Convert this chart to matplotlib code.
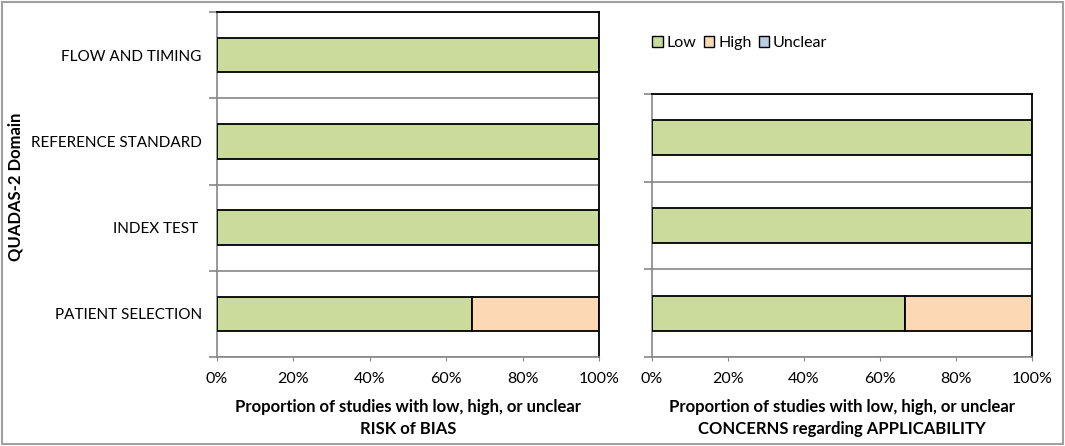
import matplotlib.pyplot as plt
from matplotlib.patches import Rectangle, Patch
from matplotlib.ticker import PercentFormatter

plt.rcParams['font.family'] = ['Lato', 'DejaVu Sans']

# risk of bias (bottom -> top)
bias_domains = ['PATIENT SELECTION', 'INDEX TEST ', 'REFERENCE STANDARD', 'FLOW AND TIMING']
bias_low = [0.667, 1.0, 1.0, 1.0]
bias_high = [0.333, 0.0, 0.0, 0.0]
bias_unclear = [0.0, 0.0, 0.0, 0.0]

# applicability concerns (bottom -> top)
appl_domains = ['PATIENT SELECTION', 'INDEX TEST', 'REFERENCE STANDARD']
appl_low = [0.667, 1.0, 1.0]
appl_high = [0.333, 0.0, 0.0]
appl_unclear = [0.0, 0.0, 0.0]

x_ticks = [0, 0.2, 0.4, 0.6, 0.8, 1.0]

c_low = '#CADB9C'
c_high = '#FDD8B5'
c_unclear = '#B9CDE5'
grid_col = '#878787'
fs = 11.5

fig = plt.figure(figsize=(10.65, 4.46), dpi=100)
ax1 = fig.add_axes([217/1065, 89/446, 382/1065, 345/446])
ax2 = fig.add_axes([652/1065, 89/446, 380/1065, 263/446])


def draw(ax, names, low, high, unclear, xlabel):
    n = len(names)
    ys = list(range(n))
    left_high = low
    left_unc = [a + b for a, b in zip(low, high)]
    ax.barh(ys, low, height=0.4, color=c_low, edgecolor='black', linewidth=1.3, zorder=3)
    ax.barh(ys, high, left=left_high, height=0.4, color=c_high, edgecolor='black', linewidth=1.3, zorder=3)
    ax.barh(ys, unclear, left=left_unc, height=0.4, color=c_unclear, edgecolor='black', linewidth=1.3, zorder=3)
    ax.set_xlim(0, 1)
    ax.set_ylim(-0.5, n - 0.5)
    ax.set_yticks(ys)
    ax.set_yticklabels(names)
    ax.set_yticks([i - 0.5 for i in range(n + 1)], minor=True)
    ax.tick_params(axis='y', which='major', length=0, pad=11, labelsize=11)
    ax.tick_params(axis='y', which='minor', length=6, color=grid_col, width=1.2)
    ax.grid(axis='y', which='minor', color=grid_col, linewidth=1.2, zorder=0)
    ax.set_xticks(x_ticks)
    ax.xaxis.set_major_formatter(PercentFormatter(1.0, decimals=0))
    ax.tick_params(axis='x', length=3, color=grid_col, labelsize=fs, pad=8)
    ax.set_xlabel(xlabel, fontsize=12, fontweight='bold', labelpad=9, linespacing=1.45)
    for s in ['left', 'bottom']:
        ax.spines[s].set_color(grid_col)
        ax.spines[s].set_linewidth(1.2)
    for s in ['top', 'right']:
        ax.spines[s].set_color('black')
        ax.spines[s].set_linewidth(1.3)


draw(ax1, bias_domains, bias_low, bias_high, bias_unclear,
     'Proportion of studies with low, high, or unclear\nRISK of BIAS')
draw(ax2, appl_domains, appl_low, appl_high, appl_unclear,
     'Proportion of studies with low, high, or unclear\nCONCERNS regarding APPLICABILITY')
ax2.set_yticklabels([])

fig.text(16/1065, 1 - 187/446, 'QUADAS-2 Domain', rotation=90, ha='center', va='center',
         fontsize=12, fontweight='bold')

handles = [Patch(facecolor=c_low, edgecolor='black', label='Low'),
           Patch(facecolor=c_high, edgecolor='black', label='High'),
           Patch(facecolor=c_unclear, edgecolor='black', label='Unclear')]
fig.legend(handles=handles, loc='center left', bbox_to_anchor=(638/1065, 1 - 43/446),
           ncol=3, frameon=False, fontsize=fs, handlelength=0.65, handleheight=0.65,
           handletextpad=0.25, columnspacing=0.45)

fig.patches.append(Rectangle((2/1065, 2/446), 1 - 4/1065, 1 - 4/446, transform=fig.transFigure,
                             fill=False, edgecolor='#A0A0A0', linewidth=1.5))

fig.savefig('out.png', dpi=100)
